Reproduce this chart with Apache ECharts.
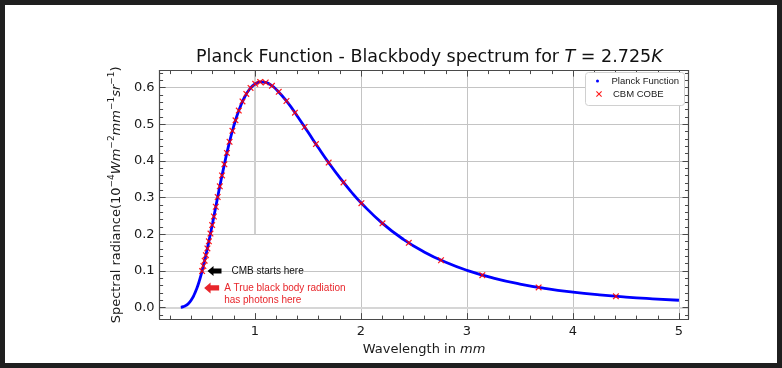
<!DOCTYPE html>
<html>
<head>
<meta charset="utf-8">
<script src="https://cdn.jsdelivr.net/npm/echarts@6/dist/echarts.min.js"></script>
<style>
  html, body { margin: 0; padding: 0; background: #1f1f1f; width: 782px; height: 368px; overflow: hidden; }
  #paper { position: absolute; left: 5px; top: 5px; width: 772px; height: 358px; background: #ffffff; }
  #chart { position: absolute; left: 0; top: 0; width: 782px; height: 368px; }
</style>
</head>
<body>
<div id="paper"></div>
<div id="chart"></div>
<script>
// ---------- data ----------
const planckX = [0.3, 0.325, 0.35, 0.375, 0.4, 0.425, 0.45, 0.475, 0.5, 0.55, 0.6, 0.65, 0.7, 0.75, 0.8, 0.85, 0.9, 0.95, 1.0, 1.05, 1.1, 1.15, 1.2, 1.3, 1.4, 1.5, 1.6, 1.7, 1.8, 1.9, 2.0, 2.2, 2.4, 2.6, 2.8, 3.0, 3.25, 3.5, 3.75, 4.0, 4.25, 4.5, 4.75, 5.0];
const planckY = [0.0011, 0.0029, 0.0064, 0.0123, 0.0215, 0.0346, 0.0518, 0.0733, 0.0988, 0.1603, 0.2309, 0.3046, 0.3755, 0.4401, 0.4952, 0.5393, 0.5727, 0.5959, 0.6095, 0.6152, 0.6137, 0.6067, 0.5949, 0.5621, 0.5218, 0.4785, 0.4350, 0.3932, 0.3543, 0.3185, 0.2860, 0.2306, 0.1864, 0.1514, 0.1238, 0.1019, 0.0806, 0.0644, 0.0520, 0.0424, 0.0349, 0.0289, 0.0242, 0.0203];

const cobeX = [0.501, 0.513, 0.525, 0.537, 0.551, 0.565, 0.580, 0.596, 0.612, 0.630, 0.648, 0.668, 0.689, 0.711, 0.735, 0.760, 0.787, 0.816, 0.847, 0.882, 0.918, 0.958, 1.002, 1.049, 1.101, 1.160, 1.224, 1.297, 1.377, 1.468, 1.575, 1.695, 1.835, 2.004, 2.203, 2.451, 2.755, 3.145, 3.676, 4.405];
const cobeY = [0.0999, 0.1136, 0.1281, 0.1432, 0.1616, 0.1808, 0.2019, 0.2251, 0.2485, 0.2751, 0.3016, 0.3307, 0.3605, 0.3906, 0.4217, 0.4519, 0.4818, 0.5105, 0.5371, 0.5621, 0.5824, 0.5987, 0.6100, 0.6151, 0.6136, 0.6046, 0.5881, 0.5632, 0.5315, 0.4924, 0.4457, 0.3953, 0.3414, 0.2848, 0.2298, 0.1767, 0.1294, 0.0888, 0.0554, 0.0310];

const xTicks = [1, 2, 3, 4, 5];
const xMinorTicks = [0.2, 0.4, 0.6, 0.8, 1.2, 1.4, 1.6, 1.8, 2.2, 2.4, 2.6, 2.8, 3.2, 3.4, 3.6, 3.8, 4.2, 4.4, 4.6, 4.8];
const yTicks = [0.0, 0.1, 0.2, 0.3, 0.4, 0.5, 0.6];
const yMinorTicks = [-0.02, 0.02, 0.04, 0.06, 0.08, 0.12, 0.14, 0.16, 0.18, 0.22, 0.24, 0.26, 0.28, 0.32, 0.34, 0.36, 0.38, 0.42, 0.44, 0.46, 0.48, 0.52, 0.54, 0.56, 0.58, 0.62, 0.64];
const xRange = [0.1, 5.09];
const yRange = [-0.031, 0.646];

const xGridValues = [2, 3, 4, 5];
const yGridValues = [0.1, 0.2, 0.3, 0.4, 0.5, 0.6];
const peakLineX = 1;
const peakLineFrom = 0.2;

const annotCMB = [0.618, 0.100];
const annotTrue = [0.591, 0.054];

// ---------- chart ----------
const FONT = 'DejaVu Sans';
const ANN_FONT = 'Liberation Sans';
const FRAME = '#4a4a4a';
const GRID = { left: 159.6, right: 782 - 688.5, top: 70.6, bottom: 368 - 319.1 };
const xMark = 'path://M0,1.3 L1.3,0 L5,3.7 L8.7,0 L10,1.3 L6.3,5 L10,8.7 L8.7,10 L5,6.3 L1.3,10 L0,8.7 L3.7,5 Z';
const arrowLeft = 'path://M0,5 L6,0 L6,2.6 L14,2.6 L14,7.4 L6,7.4 L6,10 Z';

function axisX(gridIndex, position, ticks, len, showLine, showLabel) {
  return {
    type: 'value', gridIndex: gridIndex, position: position,
    min: xRange[0], max: xRange[1],
    axisLine: { show: showLine, onZero: false, lineStyle: { color: FRAME, width: 1.2 } },
    axisTick: { show: true, inside: true, length: len, customValues: ticks, lineStyle: { color: FRAME, width: 1 } },
    axisLabel: { show: showLabel, customValues: xTicks, margin: 6, color: '#1a1a1a', fontFamily: FONT, fontSize: 13 },
    splitLine: { show: false }
  };
}
function axisY(gridIndex, position, ticks, len, showLine, showLabel) {
  return {
    type: 'value', gridIndex: gridIndex, position: position,
    min: yRange[0], max: yRange[1],
    axisLine: { show: showLine, onZero: false, lineStyle: { color: FRAME, width: 1.2 } },
    axisTick: { show: true, inside: true, length: len, customValues: ticks, lineStyle: { color: FRAME, width: 1 } },
    axisLabel: { show: showLabel, customValues: yTicks, margin: 5, color: '#1a1a1a', fontFamily: FONT, fontSize: 13,
                 formatter: function (v) { return (Math.abs(v) < 1e-9 ? 0 : v).toFixed(1); } },
    splitLine: { show: false }
  };
}

const xAxes = [
  axisX(0, 'bottom', xTicks, 6, true, true),
  axisX(0, 'top', xTicks, 6, true, false),
  axisX(1, 'bottom', xMinorTicks, 3.5, false, false),
  axisX(1, 'top', xMinorTicks, 3.5, false, false)
];
xAxes[0].name = '{n|Wavelength in }{i|mm}';
xAxes[0].nameLocation = 'middle';
xAxes[0].nameGap = 18;
xAxes[0].nameTextStyle = {
  rich: {
    n: { fontFamily: FONT, fontSize: 13, color: '#1a1a1a' },
    i: { fontFamily: FONT, fontSize: 13, color: '#1a1a1a', fontStyle: 'italic' }
  }
};

const yAxes = [
  axisY(0, 'left', yTicks, 6, true, true),
  axisY(0, 'right', yTicks, 6, true, false),
  axisY(1, 'left', yMinorTicks, 3.5, false, false),
  axisY(1, 'right', yMinorTicks, 3.5, false, false)
];
yAxes[0].name = '{n|Spectral radiance(10}{s|−4}{i|Wm}{s|−2}{i|mm}{s|−1}{i|sr}{s|−1}{n|)}';
yAxes[0].nameLocation = 'middle';
yAxes[0].nameGap = 29;
yAxes[0].nameTextStyle = {
  rich: {
    n: { fontFamily: FONT, fontSize: 13, color: '#1a1a1a', lineHeight: 16, verticalAlign: 'bottom' },
    i: { fontFamily: FONT, fontSize: 13, color: '#1a1a1a', fontStyle: 'italic', lineHeight: 16, verticalAlign: 'bottom' },
    s: { fontFamily: FONT, fontSize: 9, color: '#1a1a1a', lineHeight: 16, verticalAlign: 'top' }
  }
};

const gridLineData = [];
xGridValues.forEach(function (v) { gridLineData.push({ xAxis: v }); });
yGridValues.forEach(function (v) { gridLineData.push({ yAxis: v }); });

const option = {
  animation: false,
  title: {
    text: '{n|Planck Function - Blackbody spectrum for }{i|T}{n| = 2.725}{i|K}',
    left: 196, top: 48, padding: 0,
    textStyle: {
      fontWeight: 'normal',
      rich: {
        n: { fontFamily: FONT, fontSize: 17.5, color: '#111', fontWeight: 'normal' },
        i: { fontFamily: FONT, fontSize: 17.5, color: '#111', fontStyle: 'italic', fontWeight: 'normal' }
      }
    }
  },
  grid: [Object.assign({}, GRID), Object.assign({}, GRID)],
  xAxis: xAxes,
  yAxis: yAxes,
  legend: [
    {
      z: 20, left: 596, top: 76, padding: 0, itemWidth: 18, itemHeight: 3, itemGap: 0,
      selectedMode: false,
      data: [{ name: 'Planck Function', icon: 'circle' }],
      textStyle: { fontFamily: ANN_FONT, fontSize: 9.5, color: '#1a1a1a' }
    },
    {
      z: 20, left: 596, top: 89, padding: 0, itemWidth: 18, itemHeight: 6, itemGap: 0,
      selectedMode: false,
      data: [{ name: 'CBM COBE', icon: xMark }],
      textStyle: { fontFamily: ANN_FONT, fontSize: 9.5, color: '#1a1a1a' }
    }
  ],
  graphic: [
    { type: 'rect', z: 1, left: 585, top: 72, shape: { width: 99, height: 33, r: 3 },
      style: { fill: '#ffffff', stroke: '#d0d0d0', lineWidth: 1 } }
  ],
  series: [
    {
      type: 'line', xAxisIndex: 0, yAxisIndex: 0, data: [], silent: true, z: 0,
      markLine: {
        silent: true, symbol: 'none', z: 0, animation: false,
        label: { show: false },
        lineStyle: { color: '#c4c4c4', width: 1, type: 'solid' },
        emphasis: { disabled: true },
        data: gridLineData.concat([
          { yAxis: 0, lineStyle: { color: '#d6d6d6', width: 2, type: 'solid' } },
          [{ coord: [peakLineX, peakLineFrom], lineStyle: { color: '#d0d0d0', width: 2, type: 'solid' } },
           { coord: [peakLineX, yRange[1]] }]
        ])
      }
    },
    {
      name: 'Planck Function', type: 'line', xAxisIndex: 0, yAxisIndex: 0,
      data: planckX.map(function (x, i) { return [x, planckY[i]]; }),
      showSymbol: false, smooth: 0.5, z: 3,
      itemStyle: { color: '#0000ff' },
      lineStyle: { color: '#0000ff', width: 2.8 }
    },
    {
      name: 'CBM COBE', type: 'scatter', xAxisIndex: 0, yAxisIndex: 0,
      data: cobeX.map(function (x, i) { return [x, cobeY[i]]; }),
      symbol: xMark, symbolSize: 6.5, z: 4,
      itemStyle: { color: '#ff0000', opacity: 0.9 }
    },
    {
      type: 'scatter', xAxisIndex: 0, yAxisIndex: 0, data: [], z: 5, silent: true,
      markPoint: {
        silent: true, animation: false,
        data: [
          { coord: annotCMB, symbol: arrowLeft, symbolSize: [14, 10],
            itemStyle: { color: '#000000' },
            label: { show: true, position: 'right', distance: 10, formatter: 'CMB starts here',
                     fontFamily: ANN_FONT, fontSize: 10, color: '#111' } },
          { coord: annotTrue, symbol: arrowLeft, symbolSize: [15, 11],
            itemStyle: { color: '#e8262b' },
            label: { show: true, position: 'right', distance: 5, offset: [0, 6],
                     formatter: 'A True black body radiation\nhas photons here', lineHeight: 12,
                     fontFamily: ANN_FONT, fontSize: 10, color: '#e8262b' } }
        ]
      }
    },
    { type: 'scatter', xAxisIndex: 2, yAxisIndex: 2, data: [], silent: true }
  ]
};

const chart = echarts.init(document.getElementById('chart'), null, { renderer: 'canvas' });
chart.setOption(option);
</script>
</body>
</html>
